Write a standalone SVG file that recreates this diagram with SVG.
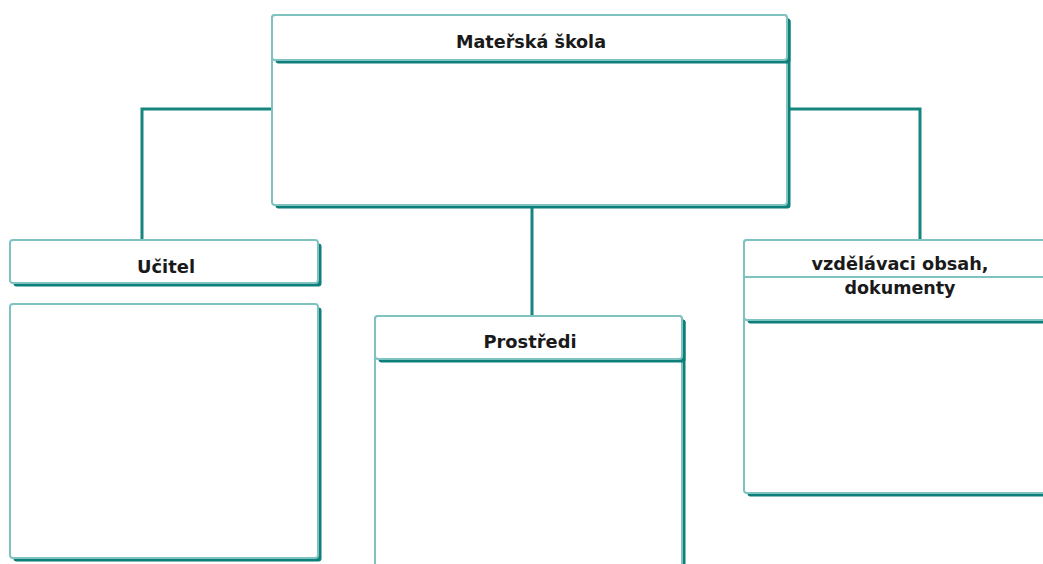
<svg xmlns="http://www.w3.org/2000/svg" width="1043" height="564" viewBox="0 0 1043 564">
<style>
.sh{fill:#0c7f7a;}
.bx{fill:#ffffff;stroke:#7fc3c1;stroke-width:2;}
.cn{fill:none;stroke:#16857f;stroke-width:3;}
.t{font-family:"DejaVu Sans Condensed","DejaVu Sans",sans-serif;font-weight:bold;font-size:17.5px;fill:#1a1a1a;text-anchor:middle;}
</style>
<rect width="1043" height="564" fill="#ffffff"/>
<g id="connectors">
<polyline class="cn" points="272,109 142,109 142,240"/>
<polyline class="cn" points="787,109 920,109 920,240"/>
<line class="cn" x1="532" y1="205" x2="532" y2="317"/>
</g>
<g id="materska-skola">
<rect class="sh" x="275.5" y="18.5" width="515" height="190" rx="3"/>
<rect class="bx" x="272" y="15" width="515" height="190" rx="3"/>
<rect class="sh" x="275.5" y="18.5" width="515" height="45" rx="3"/>
<rect class="bx" x="272" y="15" width="515" height="45" rx="3"/>
<text class="t" x="531" y="48" textLength="150" lengthAdjust="spacingAndGlyphs">Mateřská škola</text>
</g>
<g id="ucitel">
<rect class="sh" x="13.5" y="243.5" width="308" height="43" rx="3"/>
<rect class="bx" x="10" y="240" width="308" height="43" rx="3"/>
<text class="t" x="166" y="273" textLength="58" lengthAdjust="spacingAndGlyphs">Učitel</text>
</g>
<g id="ucitel-obsah">
<rect class="sh" x="13.5" y="307.5" width="308" height="254" rx="3"/>
<rect class="bx" x="10" y="304" width="308" height="254" rx="3"/>
</g>
<g id="prostredi">
<rect class="sh" x="378.5" y="319.5" width="307" height="270" rx="3"/>
<rect class="bx" x="375" y="316" width="307" height="270" rx="3"/>
<rect class="sh" x="378.5" y="319.5" width="307" height="43" rx="3"/>
<rect class="bx" x="375" y="316" width="307" height="43" rx="3"/>
<text class="t" x="530" y="348" textLength="93" lengthAdjust="spacingAndGlyphs">Prostředi</text>
</g>
<g id="vzdelavaci-obsah">
<rect class="sh" x="747.5" y="243.5" width="320" height="253" rx="3"/>
<rect class="bx" x="744" y="240" width="320" height="253" rx="3"/>
<rect class="sh" x="747.5" y="243.5" width="320" height="80" rx="3"/>
<rect class="bx" x="744" y="240" width="320" height="80" rx="3"/>
<line x1="744" y1="277" x2="1043" y2="277" stroke="#7fc3c1" stroke-width="2"/>
<text class="t" x="900" y="270" textLength="177" lengthAdjust="spacingAndGlyphs">vzdělávaci obsah,</text>
<text class="t" x="900" y="294" textLength="111" lengthAdjust="spacingAndGlyphs">dokumenty</text>
</g>
</svg>
